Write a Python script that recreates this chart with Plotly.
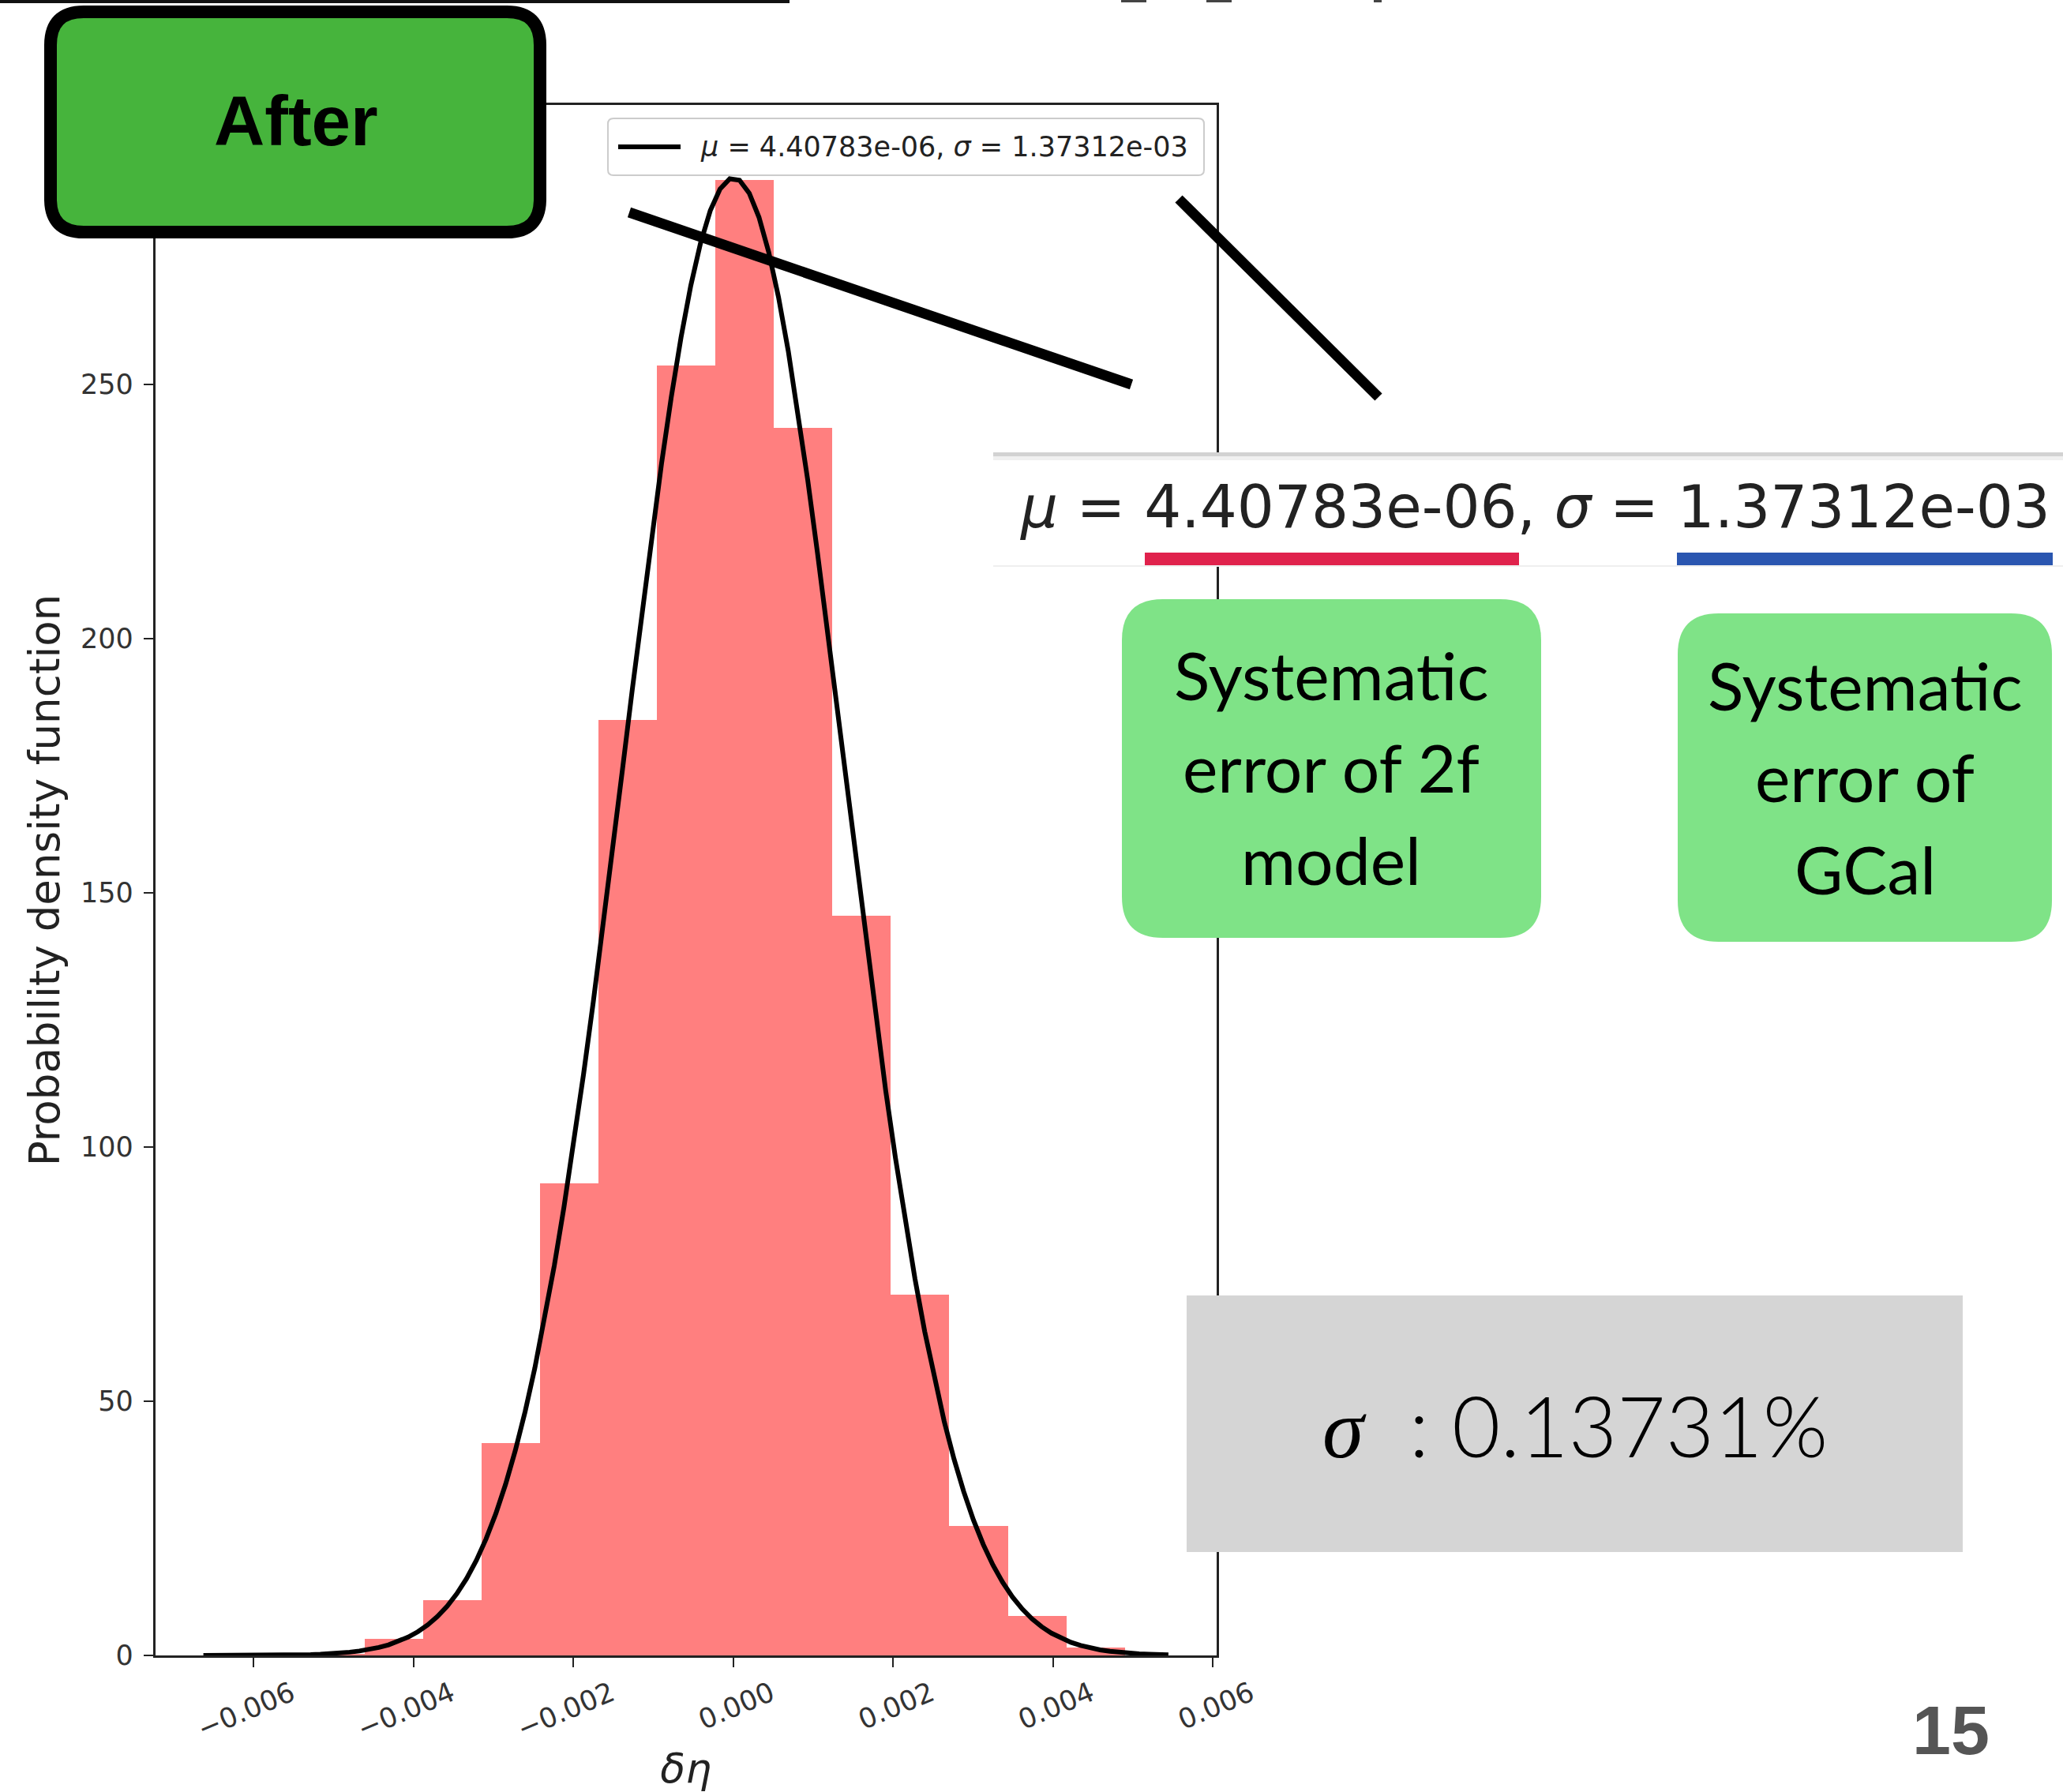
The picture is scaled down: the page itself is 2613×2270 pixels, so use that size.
import numpy as np
import plotly.graph_objects as go

# ---- data -------------------------------------------------------------
mu = 4.40783e-06
sigma = 1.37312e-03

bin_edges = [-0.006078, -0.005346, -0.004615, -0.003883, -0.003152, -0.002420,
             -0.001689, -0.000957, -0.000226, 0.000506, 0.001237, 0.001969,
             0.002700, 0.003432, 0.004164, 0.004896]
densities = [0.3, 0.3, 3.3, 10.8, 41.7, 92.8, 183.9, 253.6, 290.1, 241.4,
             145.4, 71.0, 25.4, 7.7, 1.6]

x_tick_vals = [-0.006, -0.004, -0.002, 0.0, 0.002, 0.004, 0.006]
x_tick_text = ["\u22120.006", "\u22120.004", "\u22120.002", "0.000", "0.002", "0.004", "0.006"]
y_tick_vals = [0, 50, 100, 150, 200, 250]

sigma_percent = "0.13731%"
box_left_lines = ["Systematic", "error of 2f", "model"]
box_right_lines = ["Systematic", "error of", "GCal"]
page_number = "15"

# ---- canvas helpers ---------------------------------------------------
W, H = 2613, 2270


def px(x):
    return x / W


def py(y):
    return 1 - y / H


def rounded_rect(x0, y0, x1, y1, r):
    pts = [
        f"M {px(x0 + r)},{py(y0)}",
        f"L {px(x1 - r)},{py(y0)}",
        f"Q {px(x1)},{py(y0)} {px(x1)},{py(y0 + r)}",
        f"L {px(x1)},{py(y1 - r)}",
        f"Q {px(x1)},{py(y1)} {px(x1 - r)},{py(y1)}",
        f"L {px(x0 + r)},{py(y1)}",
        f"Q {px(x0)},{py(y1)} {px(x0)},{py(y1 - r)}",
        f"L {px(x0)},{py(y0 + r)}",
        f"Q {px(x0)},{py(y0)} {px(x0 + r)},{py(y0)}",
        "Z",
    ]
    return " ".join(pts)


def paper_rect(x0, y0, x1, y1, color):
    return dict(type="rect", xref="paper", yref="paper",
                x0=px(x0), x1=px(x1), y0=py(y1), y1=py(y0),
                fillcolor=color, line=dict(width=0))


def paper_line(x0, y0, x1, y1, color, width):
    return dict(type="line", xref="paper", yref="paper",
                x0=px(x0), y0=py(y0), x1=px(x1), y1=py(y1),
                line=dict(color=color, width=width))


# ---- histogram + fitted normal ---------------------------------------
edges = np.array(bin_edges)
widths = np.diff(edges)
centers = edges[:-1] + widths / 2

span = edges[-1] - edges[0]
fit_lo, fit_hi = edges[0] - 0.05 * span, edges[-1] + 0.05 * span
x_fit = np.linspace(fit_lo, fit_hi, 100)
pdf = np.exp(-0.5 * ((x_fit - mu) / sigma) ** 2) / (sigma * np.sqrt(2 * np.pi))

span2 = fit_hi - fit_lo
x_range = [fit_lo - 0.05 * span2, fit_hi + 0.05 * span2]
y_top = 1.05 * max(pdf.max(), max(densities))

fit_label = f"<i>\u03bc</i> = {mu:.5e}, <i>\u03c3</i> = {sigma:.5e}"

fig = go.Figure()
fig.add_trace(go.Bar(x=centers, y=densities, width=widths,
                     marker=dict(color="#ff7f7f", line=dict(width=0)),
                     showlegend=False, hoverinfo="skip"))
fig.add_trace(go.Scatter(x=x_fit, y=pdf, mode="lines",
                         line=dict(color="black", width=6),
                         name=fit_label, showlegend=False))

axis_font = dict(family="DejaVu Sans", size=35, color="#333333")

fig.update_layout(
    width=W, height=H,
    margin=dict(l=0, r=0, t=0, b=0, autoexpand=False),
    paper_bgcolor="white", plot_bgcolor="white",
    bargap=0,
    showlegend=False,
    xaxis=dict(domain=[px(196.5), px(1541)], range=x_range, automargin=False,
               tickmode="array", tickvals=x_tick_vals, ticktext=x_tick_text,
               tickangle=-23, ticks="outside", ticklen=12, tickwidth=2,
               tickcolor="#222222", tickfont=axis_font,
               ticklabelshift=48, ticklabelstandoff=0,
               showline=True, linecolor="#222222", linewidth=2.5, mirror=True,
               showgrid=False, zeroline=False,
               title=dict(text="<i>\u03b4\u03b7</i>", standoff=22,
                          font=dict(family="DejaVu Sans", size=52, color="#222222"))),
    yaxis=dict(domain=[py(2097), py(133)], range=[0, y_top], automargin=False,
               tickmode="array", tickvals=y_tick_vals,
               ticks="outside", ticklen=12, tickwidth=2, tickcolor="#222222",
               tickfont=axis_font, ticklabelstandoff=6,
               showline=True, linecolor="#222222", linewidth=2.5, mirror=True,
               showgrid=False, zeroline=False,
               title=dict(text="Probability density function", standoff=10,
                          font=dict(family="DejaVu Sans", size=53, color="#222222"))),
)

shapes = []
# ragged remains of a line of text at the very top edge
shapes.append(paper_rect(0, 0, 1000, 4, "#111111"))
for a, b in [(1420, 1452), (1528, 1560), (1740, 1750)]:
    shapes.append(paper_rect(a, 0, b, 3, "#444444"))

# in-plot legend box
shapes.append(dict(type="path", xref="paper", yref="paper",
                   path=rounded_rect(770, 150, 1525, 222, 7),
                   fillcolor="white", line=dict(color="#cccccc", width=2)))
shapes.append(paper_line(783, 186, 862, 186, "black", 6))

# "After" badge
shapes.append(dict(type="path", xref="paper", yref="paper",
                   path=rounded_rect(64, 15, 684, 294, 42),
                   fillcolor="#46b43c", line=dict(color="black", width=16)))

# pointer lines towards the enlarged strip
shapes.append(paper_line(797, 269, 1433, 487, "black", 13))
shapes.append(paper_line(1493, 252, 1746, 503, "black", 13))

# enlarged legend strip
shapes.append(paper_rect(1258, 573, 2613, 717, "white"))
shapes.append(paper_rect(1258, 573, 2613, 578, "#d2d2d2"))
shapes.append(paper_rect(1258, 578, 2613, 583, "#f0f0f0"))
shapes.append(paper_rect(1258, 716, 2613, 718, "#efefef"))
# marker underlines
shapes.append(paper_rect(1450, 700, 1924, 716, "#e0224c"))
shapes.append(paper_rect(2124, 700, 2600, 716, "#2a56b0"))

# explanation boxes
shapes.append(dict(type="path", xref="paper", yref="paper",
                   path=rounded_rect(1421, 759, 1952, 1188, 52),
                   fillcolor="#7fe387", line=dict(width=0)))
shapes.append(dict(type="path", xref="paper", yref="paper",
                   path=rounded_rect(2125, 777, 2599, 1193, 52),
                   fillcolor="#7fe387", line=dict(width=0)))

# sigma result box
shapes.append(paper_rect(1503, 1641, 2486, 1966, "#d5d5d5"))

for s in shapes:
    s["layer"] = "above"
fig.update_layout(shapes=shapes)

ann = []
ann.append(dict(text=fit_label, x=px(885), y=py(186), xanchor="left",
                font=dict(family="DejaVu Sans", size=35, color="#222222")))
ann.append(dict(text="<b>After</b>", x=px(375), y=py(153),
                font=dict(family="Liberation Sans", size=89, color="black")))
ann.append(dict(text=fit_label, x=px(1290), y=py(642), xanchor="left",
                font=dict(family="DejaVu Sans", size=74, color="#222222")))
for i, line in enumerate(box_left_lines):
    ann.append(dict(text=line, x=px(1686), y=py([855, 972, 1088][i]),
                    font=dict(family="Lato", size=84, color="black")))
for i, line in enumerate(box_right_lines):
    ann.append(dict(text=line, x=px(2362), y=py([867, 983, 1100][i]),
                    font=dict(family="Lato", size=84, color="black")))
ann.append(dict(text="<span style='font-family:Liberation Serif'><i>\u03c3</i></span>  : "
                + sigma_percent,
                x=px(1995), y=py(1805),
                font=dict(family="Lato", size=106, color="black", weight=300)))
ann.append(dict(text=f"<b>{page_number}</b>", x=px(2471), y=py(2191),
                font=dict(family="Liberation Sans", size=88, color="#555555")))

for a in ann:
    a.setdefault("xanchor", "center")
    a.update(xref="paper", yref="paper", yanchor="middle", showarrow=False)
fig.update_layout(annotations=ann)

fig.write_html("out.html")
